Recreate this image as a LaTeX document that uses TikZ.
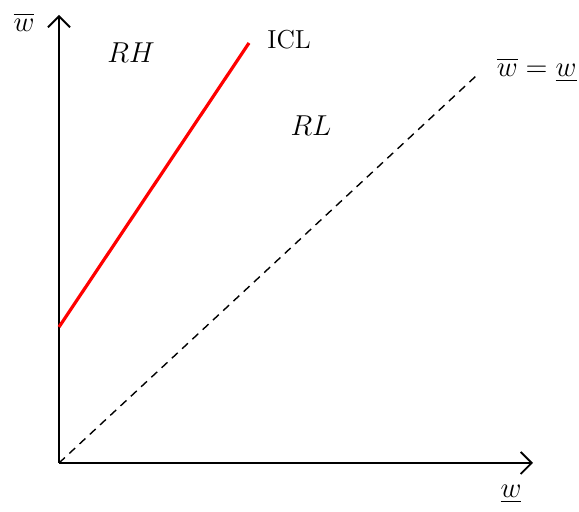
\documentclass[tikz,border=0pt]{standalone}
\usepackage{amsmath,amssymb}
\usepackage{xcolor}
\usepackage{tikz}
\usetikzlibrary{arrows.meta,positioning}

\begin{document}
\begin{tikzpicture}[
  x=0.5pt, y=-0.5pt,
  axis/.style={line width=1pt, -{Straight Barb[length=5.5pt,width=11pt,line width=0.9pt]}},
  icl/.style={red, line width=1.6pt},
  diag/.style={dashed, line width=0.7pt, dash pattern=on 4pt off 3pt},
  lbl/.style={font=\fontsize{13}{15}\selectfont, inner sep=0pt},
  mlbl/.style={font=\fontsize{15}{17}\selectfont, inner sep=0pt}
]
  \useasboundingbox (0,0) rectangle (579,512);
  % axes
  \coordinate (o) at (59,463);
  \coordinate (ytop) at (59,15);
  \coordinate (xend) at (533,463);
  \draw[axis] (o) -- (ytop);
  \draw[axis] (o) -- (xend);
  % curves
  \coordinate (iclstart) at (59,327);
  \coordinate (iclend) at (249,43);
  \coordinate (diagend) at (476,76);
  \draw[icl] (iclstart) -- (iclend);
  \draw[diag] (o) -- (diagend);
  % labels
  \node[mlbl] (wbar) at (24,22) {$\overline{w}$};
  \node[mlbl] (wlow) at (511,494) {$\underline{w}$};
  \node[mlbl] (rh) at (131,53) {$RH$};
  \node[mlbl] (rl) at (311,126) {$RL$};
  \node[lbl, anchor=west] (icllabel) at (267,40) {ICL};
  \node[mlbl, anchor=east] (eq) at (577,70) {$\overline{w}=\underline{w}$};
\end{tikzpicture}
\end{document}
